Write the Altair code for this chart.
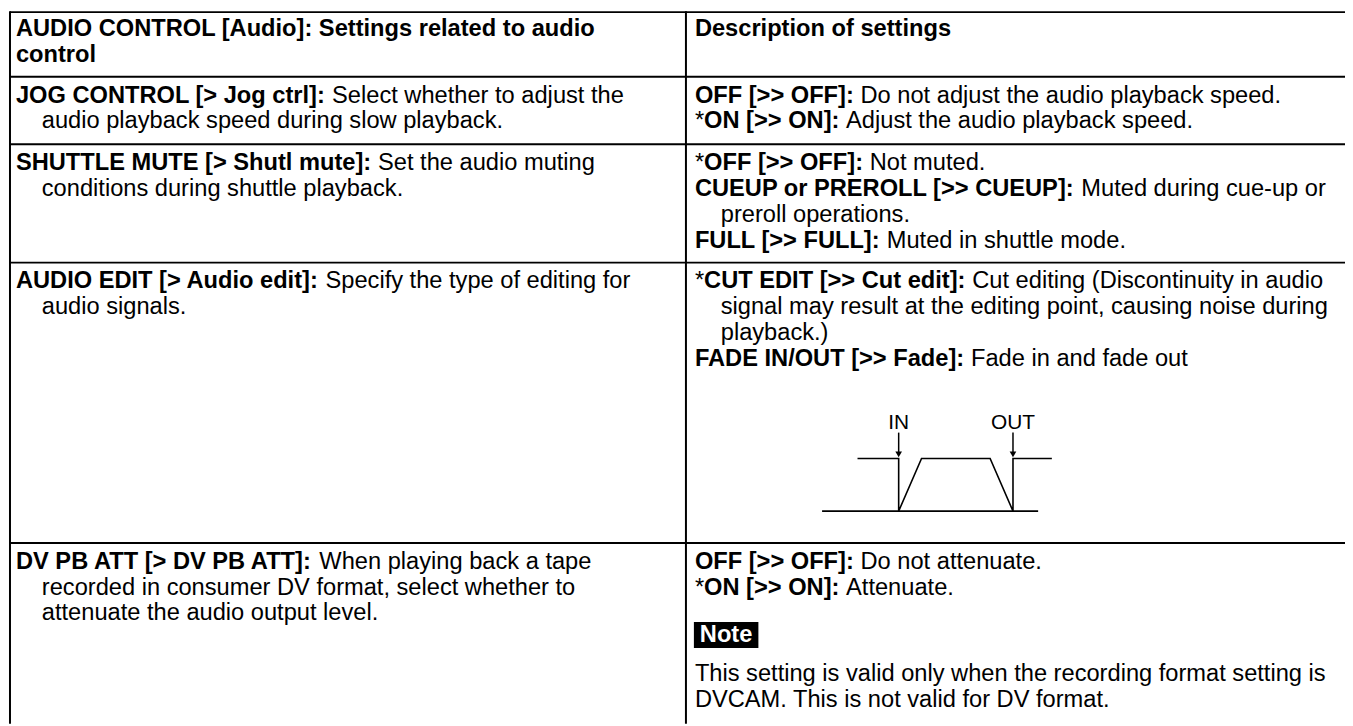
import altair as alt
import pandas as pd

# ---------------- content ----------------
header_left = ["AUDIO CONTROL [Audio]: Settings related to audio", "control"]
header_right = ["Description of settings"]

setting_names = [
    "JOG CONTROL [> Jog ctrl]:",
    "SHUTTLE MUTE [> Shutl mute]:",
    "AUDIO EDIT [> Audio edit]:",
    "DV PB ATT [> DV PB ATT]:",
]
setting_desc = [
    [" Select whether to adjust the", "audio playback speed during slow playback."],
    [" Set the audio muting", "conditions during shuttle playback."],
    [" Specify the type of editing for", "audio signals."],
    [" When playing back a tape", "recorded in consumer DV format, select whether to",
     "attenuate the audio output level."],
]
option_default = [[False, True], [True, False, False], [True, False], [False, True]]
option_labels = [
    ["OFF [>> OFF]:", "ON [>> ON]:"],
    ["OFF [>> OFF]:", "CUEUP or PREROLL [>> CUEUP]:", "FULL [>> FULL]:"],
    ["CUT EDIT [>> Cut edit]:", "FADE IN/OUT [>> Fade]:"],
    ["OFF [>> OFF]:", "ON [>> ON]:"],
]
option_desc = [
    [[" Do not adjust the audio playback speed."], [" Adjust the audio playback speed."]],
    [[" Not muted."], [" Muted during cue-up or", "preroll operations."], [" Muted in shuttle mode."]],
    [[" Cut editing (Discontinuity in audio",
      "signal may result at the editing point, causing noise during", "playback.)"],
     [" Fade in and fade out"]],
    [[" Do not attenuate."], [" Attenuate."]],
]
note_label = "Note"
note_text = ["This setting is valid only when the recording format setting is",
             "DVCAM. This is not valid for DV format."]

# fade diagram: signal level over time (IN at t=0, OUT at t=5)
fade_time = [-1.8, 0, 0, 1, 4, 5, 5, 6.7]
fade_level = [1, 1, 0, 1, 1, 0, 1, 1]
baseline_time = [-3.35, 6.1]
marker_labels = ["IN", "OUT"]
marker_time = [0, 5]

# ---------------- layout ----------------
FONT = "Liberation Sans"
FS = 23.8
LFS = 21
LH = 26
XL, XDIV, XR = 10, 690, 1353
ROW_TOP = [10, 75, 143, 262, 544]
YBOT = 726
TXL, TXR, INDENT = 16, 699, 26
FIRST = 19
HFIRST = 17

REG = [278,278,355,556,556,889,667,191,333,333,389,584,278,333,278,278] + [556]*10 + \
      [278,278,584,584,584,556,1015] + \
      [667,667,722,722,667,611,778,722,278,500,667,556,833,722,778,667,778,722,667,611,722,667,944,667,667,611] + \
      [278,278,278,469,556,333] + \
      [556,556,500,556,556,278,556,556,222,222,500,222,833,556,556,556,556,333,500,278,556,500,722,500,500,500] + \
      [334,260,334,584]
BOLD = [278,333,474,556,556,889,722,238,333,333,389,584,278,333,278,278] + [556]*10 + \
       [333,333,584,584,584,611,975] + \
       [722,722,722,722,667,611,778,722,278,556,722,611,833,722,778,667,778,722,667,611,722,667,944,667,667,611] + \
       [333,278,333,584,556,333] + \
       [556,611,556,611,556,333,611,611,278,278,556,278,889,611,611,611,611,389,556,333,611,556,778,556,556,500] + \
       [389,280,389,584]
KERN_BOLD = {"AT": -74, "FA": -55}


def tw(s, bold):
    tab = BOLD if bold else REG
    w = sum(tab[ord(c) - 32] for c in s)
    if bold:
        w += sum(KERN_BOLD.get(s[i:i + 2], 0) for i in range(len(s) - 1))
    return w * FS / 1000.0


reg_rows, bold_rows = [], []


def add_line(x, y, runs):
    for text, bold in runs:
        lead = len(text) - len(text.lstrip(" "))
        x += tw(" " * lead, bold)
        t = text.strip(" ")
        (bold_rows if bold else reg_rows).append({"x": x, "y": y, "text": t})
        x += tw(t, bold)


# header
for i, t in enumerate(header_left):
    add_line(TXL, ROW_TOP[0] + HFIRST + i * LH, [(t, True)])
for i, t in enumerate(header_right):
    add_line(TXR, ROW_TOP[0] + HFIRST + i * LH, [(t, True)])

for r in range(4):
    top = ROW_TOP[r + 1]
    y0 = top + FIRST
    d = setting_desc[r]
    add_line(TXL, y0, [(setting_names[r], True), (d[0], False)])
    for i, t in enumerate(d[1:], start=1):
        add_line(TXL + INDENT, y0 + i * LH, [(t, False)])
    k = 0
    for dflt, lab, desc in zip(option_default[r], option_labels[r], option_desc[r]):
        runs = ([("*", False)] if dflt else []) + [(lab, True), (desc[0], False)]
        add_line(TXR, y0 + k * LH, runs)
        k += 1
        for t in desc[1:]:
            add_line(TXR + INDENT, y0 + k * LH, [(t, False)])
            k += 1

# note (row 4)
y0 = ROW_TOP[4] + FIRST
note_y = y0 + 2.83 * LH
nw = tw(note_label, True)
note_box = pd.DataFrame([{"x": TXR - 1, "x2": TXR + nw + 11, "y": note_y - 13, "y2": note_y + 13}])
note_txt = pd.DataFrame([{"x": TXR + 5, "y": note_y, "text": note_label}])
for i, t in enumerate(note_text):
    add_line(TXR, note_y + 39 + i * LH, [(t, False)])

# grid rules
rules = []
for yb in ROW_TOP:
    rules.append({"x": XL, "x2": XR, "y": yb, "y2": yb})
rules.append({"x": XL, "x2": XL, "y": ROW_TOP[0] - 1, "y2": YBOT})
rules.append({"x": XDIV, "x2": XDIV, "y": ROW_TOP[0] - 1, "y2": YBOT})
rules_df = pd.DataFrame(rules)

# diagram geometry
DX0, DU = 904, 23.0
dtop = ROW_TOP[3] + 197
dbot = ROW_TOP[3] + 250
fade_df = pd.DataFrame({
    "i": range(len(fade_time)),
    "x": [DX0 + t * DU for t in fade_time],
    "y": [dbot - lv * (dbot - dtop) for lv in fade_level],
})
base_df = pd.DataFrame([{"x": DX0 + baseline_time[0] * DU, "x2": DX0 + baseline_time[1] * DU,
                         "y": dbot, "y2": dbot}])
arrow_df = pd.DataFrame([{"x": DX0 + t * DU, "x2": DX0 + t * DU, "y": dtop - 26, "y2": dtop - 6,
                          "hy": dtop - 4, "ly": dtop - 36, "text": lab}
                         for lab, t in zip(marker_labels, marker_time)])

reg_df = pd.DataFrame(reg_rows)
bold_df = pd.DataFrame(bold_rows)

xs = alt.Scale(domain=[8, 1353], nice=False, zero=False)
ys = alt.Scale(domain=[8, 726], nice=False, zero=False, reverse=True)


def X(f):
    return alt.X(f, type="quantitative", scale=xs, axis=None)


def Y(f):
    return alt.Y(f, type="quantitative", scale=ys, axis=None)


grid = alt.Chart(rules_df).mark_rule(color="black", strokeWidth=2).encode(
    x=X("x"), x2="x2", y=Y("y"), y2="y2")

txt_reg = alt.Chart(reg_df).mark_text(align="left", baseline="middle", font=FONT, fontSize=FS,
                                      color="black").encode(x=X("x"), y=Y("y"), text="text")
txt_bold = alt.Chart(bold_df).mark_text(align="left", baseline="middle", font=FONT, fontSize=FS,
                                        fontWeight="bold", color="black").encode(
    x=X("x"), y=Y("y"), text="text")

box = alt.Chart(note_box).mark_rect(color="black").encode(x=X("x"), x2="x2", y=Y("y"), y2="y2")
box_txt = alt.Chart(note_txt).mark_text(align="left", baseline="middle", font=FONT, fontSize=FS,
                                        fontWeight="bold", color="white").encode(
    x=X("x"), y=Y("y"), text="text")

fade = alt.Chart(fade_df).mark_line(color="black", strokeWidth=1.6).encode(
    x=X("x"), y=Y("y"), order="i:Q")
base = alt.Chart(base_df).mark_rule(color="black", strokeWidth=1.6).encode(
    x=X("x"), x2="x2", y=Y("y"), y2="y2")
shafts = alt.Chart(arrow_df).mark_rule(color="black", strokeWidth=1.5).encode(
    x=X("x"), x2="x2", y=Y("y"), y2="y2")
heads = alt.Chart(arrow_df).mark_point(shape="triangle-down", filled=True, size=45,
                                       color="black", opacity=1).encode(x=X("x"), y=Y("hy"))
labels = alt.Chart(arrow_df).mark_text(align="center", baseline="middle", font=FONT,
                                       fontSize=LFS, color="black").encode(
    x=X("x"), y=Y("ly"), text="text")

chart = alt.layer(grid, box, txt_reg, txt_bold, box_txt, fade, base, shafts, heads, labels).properties(
    width=1345, height=718, padding=0, autosize="none", background="white"
).configure_view(stroke=None)

chart.save("out.html", embed_options={"renderer": "svg", "actions": False})
